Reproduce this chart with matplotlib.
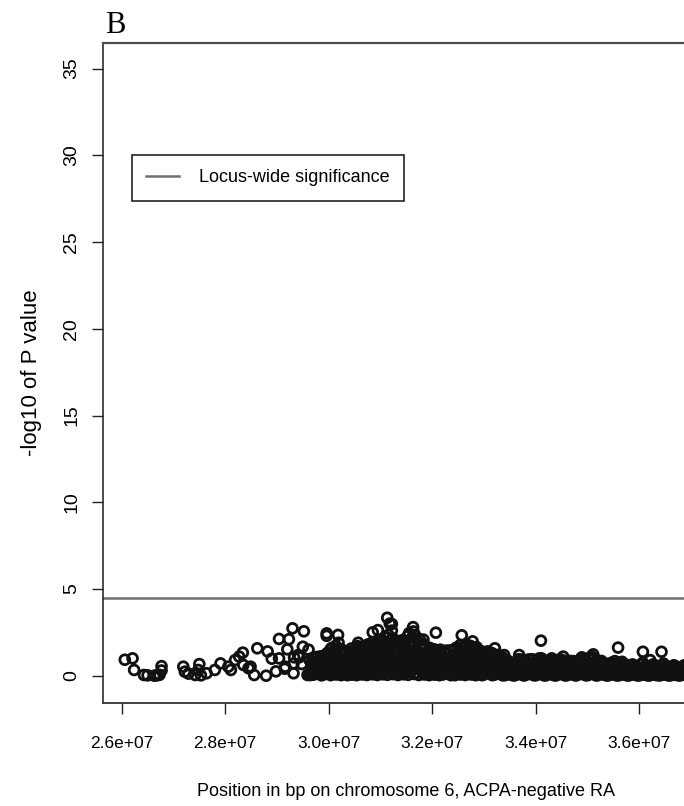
import matplotlib
matplotlib.use("Agg")
import matplotlib.pyplot as plt
from matplotlib.lines import Line2D
import numpy as np

SANS = ["Liberation Sans", "DejaVu Sans"]

# ---------------------------------------------------------------------------
# SNP association results, chromosome 6 (positions in Mb, -log10 P)
# ---------------------------------------------------------------------------
# isolated SNPs upstream of the dense block
sparse_pos = [26.06, 26.21, 26.24, 26.43, 26.50, 26.63, 26.68, 26.73, 26.77, 26.77,
              27.19, 27.22, 27.29, 27.42, 27.48, 27.50, 27.53, 27.64, 27.80, 27.91,
              28.06, 28.11, 28.19, 28.27, 28.34, 28.35, 28.45, 28.49, 28.56, 28.62,
              28.79, 28.82, 28.90, 28.98, 29.04, 29.04, 29.15, 29.16, 29.20, 29.23,
              29.30, 29.32, 29.32, 29.33, 29.41, 29.43, 29.48, 29.50, 29.52, 29.59,
              29.61, 29.63, 29.64]
sparse_logp = [0.92, 1.00, 0.33, 0.04, 0.02, 0.00, 0.02, 0.05, 0.30, 0.55,
               0.52, 0.23, 0.12, 0.04, 0.33, 0.67, 0.02, 0.14, 0.33, 0.71,
               0.52, 0.33, 0.90, 1.10, 1.33, 0.62, 0.43, 0.52, 0.04, 1.58,
               0.00, 1.40, 0.98, 0.25, 2.12, 1.00, 0.40, 0.52, 1.52, 2.10,
               2.73, 0.14, 0.71, 1.06, 1.19, 1.06, 0.67, 1.67, 2.56, 0.04,
               1.50, 0.90, 0.04]

# densely genotyped MHC region
dense_pos = [
    29.664, 29.671, 29.679, 29.686, 29.693, 29.698,
    29.705, 29.716, 29.727, 29.738, 29.749, 29.760, 29.771, 29.782, 29.793,
    29.803, 29.814, 29.826, 29.837, 29.848, 29.859, 29.871, 29.882, 29.894,
    29.905, 29.916, 29.927, 29.938, 29.949, 29.960, 29.971, 29.982, 29.993,
    30.004, 30.013, 30.021, 30.030, 30.038, 30.047, 30.056, 30.064, 30.073, 30.082, 30.091,
    30.103, 30.112, 30.121, 30.129, 30.138, 30.146, 30.155, 30.164, 30.172, 30.181, 30.190,
    30.204, 30.213, 30.221, 30.230, 30.238, 30.247, 30.256, 30.264, 30.273, 30.282, 30.291,
    30.305, 30.316, 30.327, 30.338, 30.349, 30.360, 30.371, 30.382, 30.393,
    30.403, 30.412, 30.421, 30.429, 30.438, 30.446, 30.455, 30.464, 30.472, 30.481, 30.490,
    30.504, 30.513, 30.521, 30.530, 30.538, 30.547, 30.556, 30.564, 30.573, 30.582, 30.591,
    30.603, 30.612, 30.621, 30.629, 30.638, 30.646, 30.655, 30.664, 30.672, 30.681, 30.690,
    30.704, 30.713, 30.721, 30.730, 30.738, 30.747, 30.756, 30.764, 30.773, 30.782, 30.791,
    30.803, 30.812, 30.821, 30.829, 30.838, 30.846, 30.855, 30.864, 30.872, 30.881, 30.890,
    30.904, 30.913, 30.921, 30.930, 30.938, 30.947, 30.956, 30.964, 30.973, 30.982, 30.991,
    31.003, 31.011, 31.019, 31.027, 31.035, 31.044, 31.052, 31.060, 31.068, 31.076, 31.084, 31.092,
    31.103, 31.111, 31.119, 31.127, 31.135, 31.144, 31.152, 31.160, 31.168, 31.176, 31.184, 31.192,
    31.203, 31.211, 31.219, 31.227, 31.235, 31.244, 31.252, 31.260, 31.268, 31.276, 31.284, 31.292,
    31.304, 31.313, 31.321, 31.330, 31.338, 31.347, 31.356, 31.364, 31.373, 31.382, 31.391,
    31.403, 31.412, 31.421, 31.429, 31.438, 31.446, 31.455, 31.464, 31.472, 31.481, 31.490,
    31.503, 31.511, 31.519, 31.527, 31.535, 31.544, 31.552, 31.560, 31.568, 31.576, 31.584, 31.592,
    31.603, 31.611, 31.619, 31.627, 31.635, 31.644, 31.652, 31.660, 31.668, 31.676, 31.684, 31.692,
    31.704, 31.713, 31.721, 31.730, 31.738, 31.747, 31.756, 31.764, 31.773, 31.782, 31.791,
    31.803, 31.812, 31.821, 31.829, 31.838, 31.846, 31.855, 31.864, 31.872, 31.881, 31.890,
    31.904, 31.913, 31.921, 31.930, 31.938, 31.947, 31.956, 31.964, 31.973, 31.982, 31.991,
    32.003, 32.012, 32.021, 32.029, 32.038, 32.046, 32.055, 32.064, 32.072, 32.081, 32.090,
    32.104, 32.113, 32.121, 32.130, 32.138, 32.147, 32.156, 32.164, 32.173, 32.182, 32.191,
    32.205, 32.216, 32.227, 32.238, 32.249, 32.260, 32.271, 32.282, 32.293,
    32.303, 32.314, 32.326, 32.337, 32.348, 32.359, 32.371, 32.382, 32.394,
    32.404, 32.413, 32.421, 32.430, 32.438, 32.447, 32.456, 32.464, 32.473, 32.482, 32.491,
    32.503, 32.512, 32.521, 32.529, 32.538, 32.546, 32.555, 32.564, 32.572, 32.581, 32.590,
    32.604, 32.613, 32.621, 32.630, 32.638, 32.647, 32.656, 32.664, 32.673, 32.682, 32.691,
    32.703, 32.712, 32.721, 32.729, 32.738, 32.746, 32.755, 32.764, 32.772, 32.781, 32.790,
    32.804, 32.813, 32.821, 32.830, 32.838, 32.847, 32.856, 32.864, 32.873, 32.882, 32.891,
    32.905, 32.916, 32.927, 32.938, 32.949, 32.960, 32.971, 32.982, 32.993,
    33.003, 33.014, 33.026, 33.037, 33.048, 33.059, 33.071, 33.082, 33.094,
    33.105, 33.116, 33.127, 33.138, 33.149, 33.160, 33.171, 33.182, 33.193,
    33.203, 33.214, 33.226, 33.237, 33.248, 33.259, 33.271, 33.282, 33.294,
    33.305, 33.316, 33.327, 33.338, 33.349, 33.360, 33.371, 33.382, 33.393,
    33.406, 33.418, 33.431, 33.443, 33.456, 33.468, 33.481, 33.493,
    33.504, 33.517, 33.529, 33.542, 33.554, 33.567, 33.579, 33.592,
    33.606, 33.618, 33.631, 33.643, 33.656, 33.668, 33.681, 33.693,
    33.704, 33.717, 33.729, 33.742, 33.754, 33.767, 33.779, 33.792,
    33.806, 33.818, 33.831, 33.843, 33.856, 33.868, 33.881, 33.893,
    33.904, 33.917, 33.929, 33.942, 33.954, 33.967, 33.979, 33.992,
    34.006, 34.018, 34.031, 34.043, 34.056, 34.068, 34.081, 34.093,
    34.104, 34.117, 34.129, 34.142, 34.154, 34.167, 34.179, 34.192,
    34.206, 34.218, 34.231, 34.243, 34.256, 34.268, 34.281, 34.293,
    34.304, 34.317, 34.329, 34.342, 34.354, 34.367, 34.379, 34.392,
    34.406, 34.418, 34.431, 34.443, 34.456, 34.468, 34.481, 34.493,
    34.504, 34.517, 34.529, 34.542, 34.554, 34.567, 34.579, 34.592,
    34.606, 34.618, 34.631, 34.643, 34.656, 34.668, 34.681, 34.693,
    34.704, 34.717, 34.729, 34.742, 34.754, 34.767, 34.779, 34.792,
    34.806, 34.818, 34.831, 34.843, 34.856, 34.868, 34.881, 34.893,
    34.904, 34.917, 34.929, 34.942, 34.954, 34.967, 34.979, 34.992,
    35.006, 35.018, 35.031, 35.043, 35.056, 35.068, 35.081, 35.093,
    35.104, 35.117, 35.129, 35.142, 35.154, 35.167, 35.179, 35.192,
    35.206, 35.218, 35.231, 35.243, 35.256, 35.268, 35.281, 35.293,
    35.304, 35.317, 35.329, 35.342, 35.354, 35.367, 35.379, 35.392,
    35.406, 35.418, 35.431, 35.443, 35.456, 35.468, 35.481, 35.493,
    35.504, 35.517, 35.529, 35.542, 35.554, 35.567, 35.579, 35.592,
    35.606, 35.618, 35.631, 35.643, 35.656, 35.668, 35.681, 35.693,
    35.704, 35.717, 35.729, 35.742, 35.754, 35.767, 35.779, 35.792,
    35.806, 35.818, 35.831, 35.843, 35.856, 35.868, 35.881, 35.893,
    35.904, 35.917, 35.929, 35.942, 35.954, 35.967, 35.979, 35.992,
    36.006, 36.018, 36.031, 36.043, 36.056, 36.068, 36.081, 36.093,
    36.104, 36.117, 36.129, 36.142, 36.154, 36.167, 36.179, 36.192,
    36.206, 36.218, 36.231, 36.243, 36.256, 36.268, 36.281, 36.293,
    36.304, 36.317, 36.329, 36.342, 36.354, 36.367, 36.379, 36.392,
    36.406, 36.418, 36.431, 36.443, 36.456, 36.468, 36.481, 36.493,
    36.504, 36.517, 36.529, 36.542, 36.554, 36.567, 36.579, 36.592,
    36.606, 36.618, 36.631, 36.643, 36.656, 36.668, 36.681, 36.693,
    36.704, 36.717, 36.729, 36.742, 36.754, 36.767, 36.779, 36.792,
    36.806, 36.818, 36.831, 36.843, 36.856, 36.868, 36.881, 36.893,
    36.904, 36.917, 36.929, 36.942, 36.954, 36.967, 36.979, 36.992,
]
dense_logp = [
    0.05, 0.66, 0.31, 1.02, 0.18, 0.52,
    0.06, 0.64, 0.30, 1.00, 0.15, 0.79, 1.08, 0.40, 0.53,
    0.72, 0.12, 0.97, 0.38, 1.12, 0.02, 0.52, 0.87, 0.24,
    0.07, 0.75, 0.35, 1.18, 0.18, 0.94, 1.30, 0.47, 0.62,
    0.13, 1.02, 0.50, 1.49, 0.03, 0.75, 1.60, 0.30, 1.25, 0.64, 0.90,
    0.91, 0.21, 1.49, 0.65, 1.72, 0.07, 1.19, 0.46, 1.58, 0.26, 0.77,
    0.12, 0.96, 0.47, 1.40, 0.03, 0.71, 1.50, 0.29, 1.17, 0.60, 0.84,
    0.91, 0.15, 1.22, 0.48, 1.41, 0.03, 0.65, 1.10, 0.30,
    0.83, 0.19, 1.36, 0.59, 1.57, 0.06, 1.09, 0.42, 1.44, 0.24, 0.70,
    0.14, 1.09, 0.53, 1.58, 0.03, 0.80, 1.70, 0.32, 1.33, 0.68, 0.95,
    0.88, 0.20, 1.45, 0.63, 1.67, 0.07, 1.16, 0.44, 1.53, 0.26, 0.75,
    0.14, 1.15, 0.56, 1.67, 0.04, 0.85, 1.80, 0.34, 1.40, 0.72, 1.01,
    1.01, 0.23, 1.66, 0.72, 1.91, 0.08, 1.33, 0.51, 1.76, 0.29, 0.86,
    0.16, 1.31, 0.64, 1.91, 0.04, 0.96, 2.05, 0.39, 1.60, 0.82, 1.15,
    1.09, 0.25, 1.79, 0.78, 2.06, 0.08, 1.43, 0.55, 1.89, 0.32, 0.92, 1.26,
    0.19, 1.50, 0.73, 2.19, 0.05, 1.10, 2.35, 0.45, 1.83, 0.94, 1.32, 1.65,
    1.14, 0.26, 1.87, 0.81, 2.16, 0.09, 1.50, 0.57, 1.98, 0.33, 0.97, 1.32,
    0.16, 1.28, 0.62, 1.86, 0.04, 0.94, 2.00, 0.38, 1.56, 0.80, 1.12,
    1.09, 0.25, 1.79, 0.78, 2.06, 0.08, 1.43, 0.55, 1.89, 0.32, 0.92,
    0.20, 1.57, 0.76, 2.28, 0.05, 1.15, 2.45, 0.47, 1.91, 0.98, 1.37, 1.72,
    1.35, 0.31, 2.21, 0.96, 2.55, 0.10, 1.77, 0.68, 2.34, 0.39, 1.14, 1.56,
    0.17, 1.34, 0.65, 1.95, 0.04, 0.99, 2.10, 0.40, 1.64, 0.84, 1.18,
    0.96, 0.22, 1.57, 0.68, 1.81, 0.07, 1.26, 0.48, 1.67, 0.28, 0.81,
    0.13, 1.02, 0.50, 1.49, 0.03, 0.75, 1.60, 0.30, 1.25, 0.64, 0.90,
    0.81, 0.19, 1.32, 0.57, 1.52, 0.06, 1.05, 0.40, 1.40, 0.23, 0.68,
    0.12, 0.96, 0.47, 1.40, 0.03, 0.71, 1.50, 0.29, 1.17, 0.60, 0.84,
    0.07, 0.84, 0.39, 1.32, 0.20, 1.04, 1.45, 0.52, 0.70,
    0.95, 0.15, 1.26, 0.50, 1.46, 0.03, 0.68, 1.14, 0.32,
    0.13, 1.02, 0.50, 1.49, 0.03, 0.75, 1.60, 0.30, 1.25, 0.64, 0.90,
    0.94, 0.22, 1.53, 0.67, 1.76, 0.07, 1.22, 0.47, 1.62, 0.27, 0.79,
    0.14, 1.15, 0.56, 1.67, 0.04, 0.85, 1.80, 0.34, 1.40, 0.72, 1.01,
    0.91, 0.21, 1.49, 0.65, 1.72, 0.07, 1.19, 0.46, 1.58, 0.26, 0.77,
    0.13, 1.06, 0.51, 1.53, 0.03, 0.78, 1.65, 0.31, 1.29, 0.66, 0.92,
    0.91, 0.15, 1.22, 0.48, 1.41, 0.03, 0.65, 1.10, 0.30,
    0.07, 0.81, 0.38, 1.27, 0.20, 1.01, 1.40, 0.50, 0.67,
    0.85, 0.14, 1.13, 0.45, 1.31, 0.03, 0.61, 1.03, 0.28,
    0.06, 0.70, 0.32, 1.09, 0.17, 0.86, 1.20, 0.43, 0.58,
    0.69, 0.11, 0.92, 0.36, 1.07, 0.02, 0.50, 0.84, 0.23,
    0.03, 0.47, 0.20, 0.73, 0.10, 0.85, 0.34, 0.58,
    0.38, 0.06, 0.74, 0.24, 0.50, 0.01, 0.63, 0.14,
    0.03, 0.52, 0.23, 0.82, 0.11, 0.95, 0.38, 0.65,
    0.47, 0.08, 0.93, 0.30, 0.62, 0.01, 0.79, 0.18,
    0.04, 0.51, 0.25, 0.80, 0.12, 0.94, 0.37, 0.66,
    0.46, 0.09, 0.95, 0.31, 0.61, 0.02, 0.78, 0.19,
    0.03, 0.55, 0.24, 0.86, 0.12, 1.00, 0.40, 0.68,
    0.45, 0.08, 0.88, 0.29, 0.59, 0.01, 0.75, 0.17,
    0.03, 0.50, 0.22, 0.77, 0.11, 0.90, 0.36, 0.61,
    0.42, 0.07, 0.84, 0.27, 0.56, 0.01, 0.71, 0.16,
    0.03, 0.52, 0.23, 0.82, 0.11, 0.95, 0.38, 0.65,
    0.45, 0.08, 0.88, 0.29, 0.59, 0.01, 0.75, 0.17,
    0.03, 0.47, 0.20, 0.73, 0.10, 0.85, 0.34, 0.58,
    0.42, 0.07, 0.84, 0.27, 0.56, 0.01, 0.71, 0.16,
    0.04, 0.53, 0.22, 0.83, 0.12, 0.95, 0.37, 0.64,
    0.44, 0.09, 0.89, 0.28, 0.60, 0.02, 0.76, 0.18,
    0.03, 0.61, 0.26, 0.95, 0.13, 1.10, 0.44, 0.75,
    0.52, 0.09, 1.02, 0.33, 0.68, 0.01, 0.87, 0.20,
    0.03, 0.47, 0.20, 0.73, 0.10, 0.85, 0.34, 0.58,
    0.33, 0.06, 0.65, 0.21, 0.43, 0.01, 0.55, 0.13,
    0.02, 0.41, 0.18, 0.65, 0.09, 0.75, 0.30, 0.51,
    0.42, 0.07, 0.84, 0.27, 0.56, 0.01, 0.71, 0.16,
    0.02, 0.44, 0.19, 0.69, 0.10, 0.80, 0.32, 0.54,
    0.33, 0.06, 0.65, 0.21, 0.43, 0.01, 0.55, 0.13,
    0.02, 0.36, 0.16, 0.56, 0.08, 0.65, 0.26, 0.44,
    0.28, 0.05, 0.56, 0.18, 0.37, 0.01, 0.47, 0.11,
    0.02, 0.41, 0.18, 0.65, 0.09, 0.75, 0.30, 0.51,
    0.28, 0.05, 0.56, 0.18, 0.37, 0.01, 0.47, 0.11,
    0.02, 0.36, 0.16, 0.56, 0.08, 0.65, 0.26, 0.44,
    0.29, 0.04, 0.57, 0.17, 0.38, 0.02, 0.46, 0.12,
    0.02, 0.39, 0.17, 0.60, 0.08, 0.70, 0.28, 0.48,
    0.27, 0.05, 0.55, 0.19, 0.36, 0.01, 0.48, 0.10,
    0.02, 0.33, 0.14, 0.52, 0.07, 0.60, 0.24, 0.41,
    0.26, 0.04, 0.51, 0.17, 0.34, 0.01, 0.43, 0.10,
    0.03, 0.34, 0.13, 0.53, 0.07, 0.60, 0.23, 0.42,
    0.24, 0.04, 0.47, 0.15, 0.31, 0.01, 0.40, 0.09,
]

# strongest SNPs standing out above the dense block
peak_pos = [29.96, 29.96, 30.18, 30.19, 30.57, 30.85, 30.95, 31.13, 31.18, 31.22,
            31.22, 31.63, 31.83, 32.07, 32.57, 32.78, 33.21, 33.39, 33.68, 34.10,
            34.11, 34.31, 34.53, 34.89, 35.11, 35.24, 35.35, 35.59, 36.07, 36.21,
            36.43]
peak_logp = [2.44, 2.30, 2.35, 1.90, 1.90, 2.50, 2.63, 3.34, 3.00, 2.98,
             2.60, 2.80, 2.08, 2.48, 2.33, 1.98, 1.58, 1.19, 1.19, 2.02,
             1.00, 1.00, 1.10, 1.06, 1.23, 0.81, 0.70, 1.62, 1.38, 0.90,
             1.38]

sig_threshold = 4.46
legend_label = "Locus-wide significance"

x_ticks_bp = [2.6e7, 2.8e7, 3.0e7, 3.2e7, 3.4e7, 3.6e7]
x_tick_labels = ["2.6e+07", "2.8e+07", "3.0e+07", "3.2e+07", "3.4e+07", "3.6e+07"]
y_ticks = [0, 5, 10, 15, 20, 25, 30, 35]

# ---------------------------------------------------------------------------
W, H = 684, 806
fig = plt.figure(figsize=(W / 100, H / 100), dpi=100)
fig.patch.set_facecolor("white")

left_px, right_px, top_px, bottom_px = 102.7, 709.0, 43.3, 702.7
ax = fig.add_axes([left_px / W, 1 - bottom_px / H,
                   (right_px - left_px) / W, (bottom_px - top_px) / H])

all_pos = np.concatenate([sparse_pos, dense_pos, peak_pos]) * 1e6
all_logp = np.concatenate([sparse_logp, dense_logp, peak_logp])
ax.scatter(all_pos, all_logp, s=50, facecolors="none", edgecolors="#111111",
           linewidths=2.0, zorder=3)

ax.axhline(sig_threshold, color="#707070", lw=1.8, zorder=2)

ax.set_xlim(2.5633e7, 3.7347e7)
ax.set_ylim(-1.557, 36.46)

ax.set_xticks(x_ticks_bp)
ax.set_xticklabels(x_tick_labels, family=SANS, fontsize=12.5)
ax.set_yticks(y_ticks)
ax.set_yticklabels([str(v) for v in y_ticks], family=SANS, fontsize=14,
                   rotation=90, va="center")

ax.tick_params(axis="x", direction="out", length=8, width=1.0, color="#222222",
               pad=16)
ax.tick_params(axis="y", direction="out", length=8, width=1.0, color="#222222",
               pad=8)

ax.spines["right"].set_visible(False)
ax.spines["left"].set_color("#1a1a1a")
ax.spines["left"].set_linewidth(1.1)
ax.spines["top"].set_color("#4d4d4d")
ax.spines["top"].set_linewidth(1.6)
ax.spines["bottom"].set_color("#333333")
ax.spines["bottom"].set_linewidth(1.3)

handle = Line2D([], [], color="#707070", lw=1.8)
leg = ax.legend([handle], [legend_label], loc="upper left",
                bbox_to_anchor=(131.7 / W, 1 - 155 / H),
                bbox_transform=fig.transFigure, frameon=True, fancybox=False,
                framealpha=1, edgecolor="#222222", borderpad=0.8,
                handlelength=1.8, handletextpad=1.1, borderaxespad=0,
                prop={"family": SANS, "size": 13})
leg.get_frame().set_linewidth(1.2)

fig.text(406 / W, 1 - 792 / H, "Position in bp on chromosome 6, ACPA-negative RA",
         family=SANS, fontsize=13, ha="center", va="center")
fig.text(32 / W, 1 - 373 / H, "-log10 of P value", family=SANS, fontsize=16,
         rotation=90, ha="center", va="center")
fig.text(105 / W, 1 - 33 / H, "B", family=["Liberation Serif", "DejaVu Serif"],
         fontsize=22, ha="left", va="baseline")

fig.savefig("out.png", dpi=100)
